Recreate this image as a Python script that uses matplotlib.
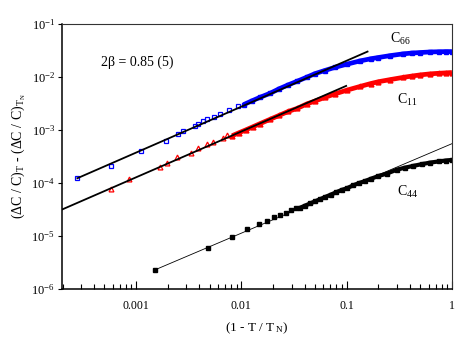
import matplotlib
matplotlib.use('Agg')
import matplotlib.pyplot as plt
from matplotlib.ticker import FixedLocator, NullFormatter, LogLocator

plt.rcParams['font.family'] = ['Liberation Serif', 'DejaVu Serif']
plt.rcParams['mathtext.fontset'] = 'custom'
plt.rcParams['mathtext.rm'] = 'Liberation Serif'
plt.rcParams['mathtext.it'] = 'Liberation Serif:italic'

# C66 (blue squares): sparse points, then dense band
c66_x = [2.77e-4, 5.75e-4, 1.12e-3, 1.93e-3, 2.49e-3, 2.77e-3, 3.63e-3, 3.91e-3,
         4.36e-3, 4.69e-3, 5.54e-3, 6.28e-3, 7.64e-3, 9.37e-3]
c66_y = [1.23e-4, 2.12e-4, 4.07e-4, 6.12e-4, 8.4e-4, 9.57e-4, 1.20e-3, 1.28e-3,
         1.50e-3, 1.59e-3, 1.78e-3, 1.98e-3, 2.35e-3, 2.84e-3]
c66_dense_x = [0.0105, 0.0125, 0.015, 0.0188, 0.023, 0.028, 0.034, 0.042, 0.05, 0.062,
               0.078, 0.1, 0.134, 0.17, 0.2, 0.26, 0.345, 0.42, 0.5, 0.62, 0.75, 0.87, 1.0]
c66_dense_y = [3.0e-3, 3.51e-3, 4.11e-3, 4.92e-3, 6.0e-3, 7.1e-3, 8.3e-3, 9.9e-3, 1.15e-2, 1.32e-2,
               1.52e-2, 1.73e-2, 2.0e-2, 2.2e-2, 2.32e-2, 2.52e-2, 2.72e-2, 2.82e-2, 2.88e-2,
               2.95e-2, 2.98e-2, 3.0e-2, 3.0e-2]

# C11 (red triangles)
c11_x = [5.79e-4, 8.59e-4, 1.69e-3, 1.96e-3, 2.47e-3, 3.33e-3, 3.85e-3, 4.69e-3,
         5.42e-3, 6.65e-3, 7.36e-3]
c11_y = [7.64e-5, 1.21e-4, 1.98e-4, 2.37e-4, 3.06e-4, 3.73e-4, 4.64e-4, 5.37e-4,
         6.01e-4, 7.16e-4, 8.05e-4]
c11_dense_x = [0.0082, 0.0095, 0.011, 0.0128, 0.015, 0.0188, 0.023, 0.028, 0.034, 0.042,
               0.05, 0.062, 0.078, 0.1, 0.134, 0.17, 0.2, 0.26, 0.345, 0.42, 0.5, 0.62,
               0.75, 0.87, 1.0]
c11_dense_y = [7.8e-4, 8.85e-4, 1.0e-3, 1.14e-3, 1.31e-3, 1.59e-3, 1.89e-3, 2.24e-3, 2.55e-3,
               3.1e-3, 3.5e-3, 4.1e-3, 4.8e-3, 5.6e-3, 6.6e-3, 7.5e-3, 8.1e-3, 8.9e-3,
               9.8e-3, 1.04e-2, 1.09e-2, 1.14e-2, 1.17e-2, 1.19e-2, 1.21e-2]

# C44 (black squares)
c44_x = [1.51e-3, 4.86e-3, 8.1e-3, 0.0114, 0.0147, 0.0177, 0.0206, 0.0233, 0.0264,
         0.0297, 0.0329]
c44_y = [2.3e-6, 6.0e-6, 9.7e-6, 1.34e-5, 1.68e-5, 1.95e-5, 2.25e-5, 2.52e-5, 2.75e-5,
         3.1e-5, 3.33e-5]
c44_dense_x = [0.036, 0.04, 0.045, 0.05, 0.056, 0.063, 0.071, 0.08, 0.09, 0.1, 0.115, 0.13,
               0.15, 0.17, 0.2, 0.24, 0.3, 0.36, 0.43, 0.52, 0.62, 0.75, 0.87, 1.0]
c44_dense_y = [3.4e-5, 3.72e-5, 4.11e-5, 4.5e-5, 4.95e-5, 5.47e-5, 6.05e-5, 6.71e-5, 7.41e-5,
               7.9e-5, 9.0e-5, 9.9e-5, 1.09e-4, 1.2e-4, 1.35e-4, 1.5e-4, 1.78e-4, 1.95e-4,
               2.1e-4, 2.27e-4, 2.42e-4, 2.55e-4, 2.65e-4, 2.72e-4]

# power-law fits (2 beta = 0.85)
fit66_x, fit66_y = [2.77e-4, 0.158], [1.23e-4, 0.030]
fit11_x, fit11_y = [1.9e-4, 0.099], [3.05e-5, 6.76e-3]
fit44_x, fit44_y = [1.51e-3, 1.0], [2.3e-6, 5.5e-4]

xticks = [0.001, 0.01, 0.1, 1]
xticklabels = ['0.001', '0.01', '0.1', '1']

fig = plt.figure(figsize=(4.63, 3.56), dpi=100)
ax = fig.add_axes([0.134, 0.188, 0.842, 0.745])

ax.plot(c66_x, c66_y, 's', ms=3.5, mfc='none', mec='#0000ff', mew=0.9)
ax.plot(c66_dense_x, c66_dense_y, 's-', color='#0000ff', ms=3.5, lw=3.4, solid_capstyle='butt')
ax.plot(c11_x, c11_y, '^', ms=3.5, mfc='none', mec='#ff0000', mew=0.9)
ax.plot(c11_dense_x, c11_dense_y, '^-', color='#ff0000', ms=3.5, lw=3.4, solid_capstyle='butt')
ax.plot(c44_x, c44_y, 's', ms=3.2, color='black')
ax.plot(c44_dense_x, c44_dense_y, 's-', color='black', ms=3.2, lw=3, solid_capstyle='butt')

ax.plot(fit66_x, fit66_y, '-', color='black', lw=1.3, zorder=5)
ax.plot(fit11_x, fit11_y, '-', color='black', lw=1.3, zorder=5)
ax.plot(fit44_x, fit44_y, '-', color='black', lw=0.6, zorder=5)

ax.set_xscale('log')
ax.set_yscale('log')
ax.set_xlim(1.98e-4, 1)
ax.set_ylim(1e-6, 1e-1)

ax.xaxis.set_major_locator(FixedLocator(xticks))
ax.set_xticklabels(xticklabels)
ax.xaxis.set_minor_locator(LogLocator(base=10, subs=range(2, 10), numticks=20))
ax.xaxis.set_minor_formatter(NullFormatter())
ax.yaxis.set_minor_locator(FixedLocator([]))
ax.tick_params(axis='x', which='major', direction='in', length=6, width=0.8, labelsize=8.5, pad=8)
ax.tick_params(axis='x', which='minor', direction='in', length=3.5, width=0.8)
ax.tick_params(axis='y', which='major', direction='out', length=3, width=0.8, labelsize=9, pad=2)

for s in ['left', 'bottom']:
    ax.spines[s].set_linewidth(1.1)
for s in ['top', 'right']:
    ax.spines[s].set_linewidth(0.8)
    ax.spines[s].set_color('#333333')

ax.text(0.1, 0.84, '2β = 0.85 (5)', transform=ax.transAxes, fontsize=10)
ax.text(0.84, 0.93, 'C$_{66}$', transform=ax.transAxes, fontsize=10)
ax.text(0.86, 0.70, 'C$_{11}$', transform=ax.transAxes, fontsize=10)
ax.text(0.86, 0.35, 'C$_{44}$', transform=ax.transAxes, fontsize=10)

ax.set_xlabel('(1 - T / T$_{\\rm\\ N}$)', fontsize=9.5, labelpad=6)
ax.set_ylabel('(ΔC / C)$_{\\rm T}$ - (ΔC / C)$_{\\rm T_N}$', fontsize=10, labelpad=2)

fig.savefig('out.png', dpi=100)
